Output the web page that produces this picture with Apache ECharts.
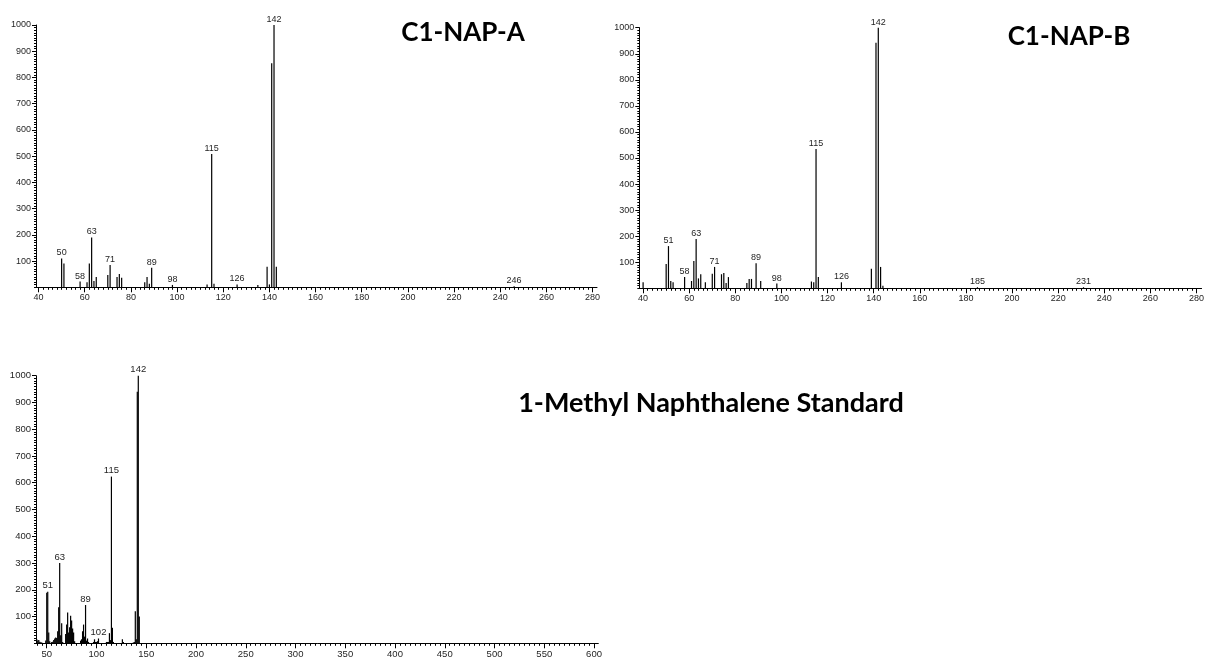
<!DOCTYPE html>
<html>
<head>
<meta charset="utf-8">
<title>Mass spectra – C1 naphthalenes</title>
<script src="https://cdn.jsdelivr.net/npm/echarts@6/dist/echarts.min.js"></script>
<style>
  html, body { margin: 0; padding: 0; background: #ffffff; }
  #chart { width: 1207px; height: 661px; }
</style>
</head>
<body>
<div id="chart"></div>
<script>
// ---- Spectrum A (m/z, relative abundance) ----
const mzA = [50, 51, 58, 61, 62, 63, 64, 65, 70, 71, 74, 75, 76, 86, 87, 88, 89, 98,
             113, 115, 116, 126, 135, 139, 140, 141, 142, 143, 246];
const intA = [110, 91, 22, 19, 91, 190, 24, 39, 47, 85, 39, 51, 36, 19, 39, 14, 75, 9,
              11, 508, 14, 11, 9, 78, 11, 854, 1000, 78, 4];
const labelsA = [50, 58, 63, 71, 89, 98, 115, 126, 142, 246];

// ---- Spectrum B ----
const mzB = [40, 50, 51, 52, 53, 58, 61, 62, 63, 64, 65, 67, 70, 71, 74, 75, 76, 77,
             85, 86, 87, 89, 91, 98, 113, 114, 115, 116, 126, 139, 141, 142, 143, 144,
             185, 231];
const intB = [23, 93, 162, 28, 23, 43, 28, 105, 189, 38, 54, 23, 56, 82, 54, 59, 20, 43,
              20, 36, 36, 96, 28, 18, 26, 23, 535, 43, 23, 75, 942, 1000, 82, 10,
              4, 4];
const labelsB = [51, 58, 63, 71, 89, 98, 115, 126, 142, 185, 231];

// ---- 1-Methyl naphthalene reference spectrum ----
const mzC = [40, 41, 42, 43, 44, 45, 49, 50, 51, 52, 53, 55, 56, 57, 58, 59, 60,
             61, 62, 63, 64, 65, 66, 69, 70, 71, 72, 73, 74, 75, 76, 77, 78,
             84, 85, 86, 87, 88, 89, 90, 91, 92, 97, 98, 99, 100, 101, 102,
             110, 111, 112, 113, 114, 115, 116, 117, 126, 127,
             137, 138, 139, 140, 141, 142, 143];
const intC = [15, 10, 12, 6, 4, 3, 10, 189, 193, 40, 8, 5, 6, 12, 18, 22, 20,
              45, 135, 300, 30, 75, 5, 35, 70, 115, 40, 60, 103, 85, 55, 40, 8,
              10, 15, 45, 70, 25, 143, 10, 18, 5, 5, 15, 5, 5, 8, 18,
              5, 5, 5, 38, 12, 623, 58, 5, 15, 5,
              3, 5, 120, 15, 940, 1000, 100];
const labelsC = [51, 63, 89, 102, 115, 142];

// ---- Axis tick values ----
const xMajorAB = [40, 60, 80, 100, 120, 140, 160, 180, 200, 220, 240, 260, 280];
const xMajorC = [50, 100, 150, 200, 250, 300, 350, 400, 450, 500, 550, 600];
const yMajor = [100, 200, 300, 400, 500, 600, 700, 800, 900, 1000];

const titles = ['C1-NAP-A', 'C1-NAP-B', '1-Methyl Naphthalene Standard'];

function range(a, b, step) {
  const out = [];
  for (let v = a; v <= b + 1e-9; v += step) out.push(Math.round(v * 1000) / 1000);
  return out;
}

const panels = [
  { mz: mzA, ab: intA, lab: labelsA, grid: { left: 36, top: 25, width: 561, height: 262.3 },
    xmin: 38.9, xmax: 281.9, major: xMajorAB, minor: range(40, 280, 2), font: 9 },
  { mz: mzB, ab: intB, lab: labelsB, grid: { left: 639.3, top: 27.7, width: 564, height: 260.6 },
    xmin: 38.35, xmax: 282.2, major: xMajorAB, minor: range(40, 280, 2), font: 9 },
  { mz: mzC, ab: intC, lab: labelsC, grid: { left: 36, top: 375.7, width: 562.3, height: 267.6 },
    xmin: 39.2, xmax: 604.3, major: xMajorC, minor: range(40, 600, 5), font: 9.5 }
];

const FONT = 'Liberation Sans';
const TXT = '#1f1f1f';
const plain = v => String(Math.round(v));   // no thousands separator

const grid = [], xAxis = [], yAxis = [], series = [];
panels.forEach((p, i) => {
  grid.push(Object.assign({ containLabel: false }, p.grid));
  // main x axis: line, long ticks and labels
  xAxis.push({
    type: 'value', gridIndex: i, position: 'bottom', min: p.xmin, max: p.xmax,
    axisLine: { show: true, onZero: false, lineStyle: { color: '#000', width: 1 } },
    axisTick: { show: true, length: 5, customValues: p.major, lineStyle: { color: '#000' } },
    axisLabel: { show: true, customValues: p.major, margin: 6, formatter: plain,
                 fontFamily: FONT, fontSize: p.font, color: TXT },
    splitLine: { show: false }
  });
  // short minor ticks
  xAxis.push({
    type: 'value', gridIndex: i, position: 'bottom', min: p.xmin, max: p.xmax,
    axisLine: { show: false, onZero: false },
    axisTick: { show: true, length: 2.5, customValues: p.minor, lineStyle: { color: '#000' } },
    axisLabel: { show: false },
    splitLine: { show: false }
  });
  yAxis.push({
    type: 'value', gridIndex: i, position: 'left', min: 0, max: 1000,
    axisLine: { show: true, lineStyle: { color: '#000', width: 1 } },
    axisTick: { show: true, length: 4, customValues: yMajor, lineStyle: { color: '#000' } },
    axisLabel: { show: true, customValues: yMajor, margin: 5, formatter: plain,
                 fontFamily: FONT, fontSize: p.font, color: TXT },
    splitLine: { show: false }
  });
  yAxis.push({
    type: 'value', gridIndex: i, position: 'left', min: 0, max: 1000,
    axisLine: { show: false },
    axisTick: { show: true, length: 2, customValues: range(0, 1000, 10), lineStyle: { color: '#000' } },
    axisLabel: { show: false },
    splitLine: { show: false }
  });
  const data = p.mz.map((m, k) => {
    const item = { value: [m, p.ab[k]] };
    if (p.lab.indexOf(m) >= 0) {
      item.label = { show: true, formatter: String(m) };
    }
    return item;
  });
  series.push({
    type: 'bar', name: titles[i], xAxisIndex: 2 * i, yAxisIndex: 2 * i,
    barWidth: 1.2, data: data, silent: true, animation: false,
    itemStyle: { color: '#000' },
    label: { show: false, position: 'top', distance: 1,
             fontFamily: FONT, fontSize: p.font, color: TXT }
  });
});

const chart = echarts.init(document.getElementById('chart'), null, { renderer: 'canvas' });
chart.setOption({
  animation: false,
  backgroundColor: '#ffffff',
  grid: grid, xAxis: xAxis, yAxis: yAxis, series: series,
  graphic: [
    { type: 'text', x: 463, y: 33,
      style: { text: titles[0], fill: '#000', font: 'bold 26px Lato', align: 'center', verticalAlign: 'middle' } },
    { type: 'text', x: 1069, y: 37,
      style: { text: titles[1], fill: '#000', font: 'bold 26px Lato', align: 'center', verticalAlign: 'middle' } },
    { type: 'text', x: 711, y: 403,
      style: { text: titles[2], fill: '#000', font: 'bold 27px Lato', align: 'center', verticalAlign: 'middle' } }
  ]
});
</script>
</body>
</html>
